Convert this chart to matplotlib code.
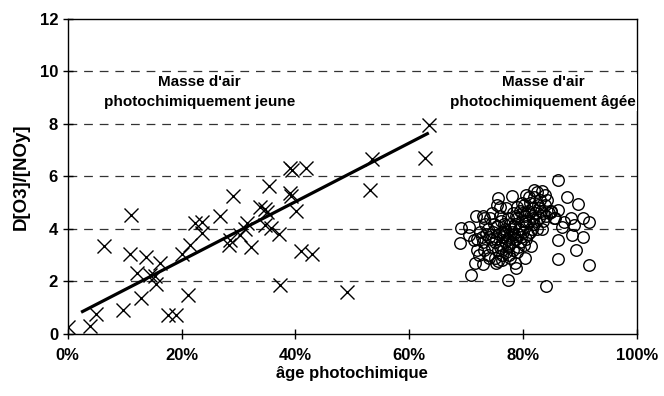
import matplotlib
matplotlib.use("Agg")
import matplotlib.pyplot as plt
from matplotlib.ticker import FuncFormatter

plt.rcParams['font.family'] = ['Liberation Sans', 'DejaVu Sans']

# jeune air masses (crosses)
young_age = [0.0, 3.9, 5.0, 6.4, 11.1, 10.9, 13.8, 16.2, 20.1, 12.1, 14.5, 15.3,
             15.6, 12.8, 9.8, 17.7, 19.1, 21.2, 39.1, 39.4, 41.9, 35.3, 29.1, 39.1,
             39.2, 26.8, 33.8, 34.7, 35.0, 40.1, 22.4, 23.6, 23.6, 21.5, 31.5, 31.2,
             30.3, 28.5, 28.4, 32.2, 34.7, 35.8, 37.1, 41.0, 43.0, 37.3, 63.5, 62.7,
             53.5, 53.2, 49.0]
young_ratio = [0.26, 0.28, 0.75, 3.36, 4.54, 3.04, 2.93, 2.70, 3.04, 2.32, 2.25, 2.19,
               1.91, 1.36, 0.92, 0.72, 0.72, 1.49, 6.32, 6.23, 6.32, 5.64, 5.26, 5.37,
               5.24, 4.50, 4.83, 4.75, 4.66, 4.69, 4.22, 4.25, 3.84, 3.39, 4.22, 3.99,
               3.78, 3.59, 3.39, 3.31, 4.16, 4.03, 3.80, 3.14, 3.03, 1.87, 7.97, 6.70,
               6.66, 5.49, 1.58]

# regression line ends
fit_age = [2.6, 63.2]
fit_ratio = [0.85, 7.63]

# aged air masses (circles)
old_pts = [
    (86.1, 5.87), (82.0, 5.47), (83.4, 5.46), (87.7, 5.20), (89.6, 4.95), (86.1, 4.73),
    (90.6, 4.43), (91.6, 4.26), (88.4, 4.43), (87.2, 4.28), (89.0, 4.13), (86.9, 4.09),
    (88.7, 3.75), (90.5, 3.68), (86.1, 3.56), (89.3, 3.20), (86.2, 2.84), (91.6, 2.62),
    (84.1, 1.84), (81.4, 3.33), (80.4, 2.89), (84.9, 4.66), (85.5, 4.41), (78.1, 5.25),
    (75.7, 5.16), (76.0, 4.82), (78.9, 4.82), (71.7, 4.50), (73.1, 4.41), (69.1, 4.04),
    (70.5, 4.09), (70.5, 3.78), (69.0, 3.46), (71.4, 3.58), (71.9, 3.21), (71.5, 2.71),
    (73.0, 2.66), (70.8, 2.23), (77.4, 2.04), (78.8, 2.50), (75.6, 2.79),
    (72.5, 3.9), (73.0, 3.5), (73.4, 4.2), (73.8, 3.0), (74.0, 3.7), (74.2, 4.4),
    (74.5, 3.3), (74.8, 3.9), (75.0, 2.9), (75.2, 3.6), (75.4, 4.1), (75.6, 3.2),
    (75.8, 3.8), (76.0, 4.5), (76.1, 3.4), (76.3, 3.0), (76.5, 3.7), (76.6, 4.2),
    (76.8, 3.5), (77.0, 3.1), (77.1, 3.9), (77.3, 4.4), (77.4, 3.3), (77.6, 3.7),
    (77.8, 2.9), (77.9, 4.0), (78.0, 3.5), (78.2, 4.6), (78.3, 3.2), (78.5, 3.8),
    (78.6, 4.2), (78.8, 3.6), (79.0, 4.4), (79.1, 3.3), (79.3, 4.0), (79.5, 4.7),
    (79.6, 3.7), (79.8, 4.3), (80.0, 3.9), (80.1, 4.9), (80.3, 4.5), (80.5, 3.6),
    (80.6, 4.1), (80.8, 4.7), (81.0, 4.3), (81.2, 5.0), (81.3, 3.9), (81.5, 4.5),
    (81.7, 4.8), (81.9, 4.2), (82.0, 5.2), (82.2, 4.6), (82.4, 4.0), (82.6, 4.9),
    (82.8, 4.4), (83.0, 5.1), (83.2, 4.7), (83.5, 4.3), (83.8, 4.9), (84.0, 4.5),
    (84.3, 5.1), (72.0, 3.6), (73.5, 3.8), (74.6, 4.6), (75.1, 3.5), (76.4, 3.9),
    (76.9, 4.0), (77.5, 3.4), (78.1, 3.9), (78.9, 3.1), (79.4, 3.5), (80.2, 3.4),
    (80.9, 3.8), (81.6, 4.0), (82.3, 4.3), (83.3, 4.0), (84.5, 4.6), (85.0, 4.7),
    (85.6, 4.4), (82.5, 5.4), (81.0, 5.2), (80.5, 5.3), (79.8, 5.0), (83.8, 5.3),
    (77.0, 4.8), (75.5, 4.9), (73.0, 4.5), (74.0, 2.9), (75.3, 2.7), (76.4, 2.8),
    (77.6, 3.0), (78.6, 2.7), (73.2, 3.2), (72.3, 3.0),
    (74.3, 3.6), (75.9, 3.3), (76.7, 3.8), (77.2, 3.6), (78.4, 4.1), (79.2, 3.8),
    (80.4, 4.3), (81.1, 4.6), (81.8, 4.4), (82.9, 4.8), (83.6, 4.6), (79.9, 4.6),
    (78.7, 4.5), (77.7, 4.2), (76.2, 4.3), (74.9, 4.2), (73.9, 4.0), (72.8, 3.7),
]
old_age = [p[0] for p in old_pts]
old_ratio = [p[1] for p in old_pts]

fig = plt.figure(figsize=(6.64, 3.96), dpi=100)
ax = fig.add_axes([0.102, 0.157, 0.857, 0.795])

ax.set_xlim(0, 100)
ax.set_ylim(0, 12)
ax.set_xticks(range(0, 101, 20))
ax.set_yticks(range(0, 13, 2))
ax.xaxis.set_major_formatter(FuncFormatter(lambda v, p: f"{v:.0f}%"))

for g in range(2, 12, 2):
    ax.axhline(g, color='#333333', lw=0.9, ls=(0, (7, 5.5)), zorder=1)

ax.plot(young_age, young_ratio, ls='none', marker='x', ms=9.5, mew=1.0,
        color='black', zorder=3)
ax.plot(old_age, old_ratio, ls='none', marker='o', ms=8.3, mfc='none', mew=1.0,
        mec='black', zorder=3)
ax.plot(fit_age, fit_ratio, color='black', lw=2.3, zorder=4)

ax.tick_params(direction='inout', length=7, width=1, labelsize=12)
for lab in ax.get_xticklabels() + ax.get_yticklabels():
    lab.set_fontweight('bold')
ax.tick_params(axis='x', pad=7)
for s in ax.spines.values():
    s.set_linewidth(1.0)

ax.set_xlabel("âge photochimique", fontsize=12, fontweight='bold', labelpad=2)
ax.set_ylabel("D[O3]/[NOy]", fontsize=13.5, fontweight='bold', labelpad=7)

ax.text(23.2, 9.2, "Masse d'air\nphotochimiquement jeune", ha='center', va='center',
        fontsize=11, fontweight='bold', linespacing=1.55,
        bbox=dict(fc='white', ec='none', pad=1))
ax.text(83.5, 9.2, "Masse d'air\nphotochimiquement âgée", ha='center', va='center',
        fontsize=11, fontweight='bold', linespacing=1.55,
        bbox=dict(fc='white', ec='none', pad=1))

fig.savefig("out.png", dpi=100)
